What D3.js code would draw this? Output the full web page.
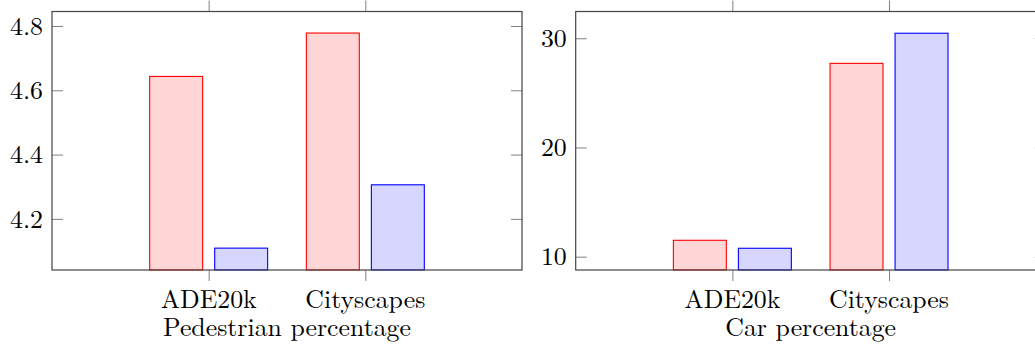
<!DOCTYPE html>
<html>
<head>
<meta charset="utf-8">
<script src="https://cdn.jsdelivr.net/npm/d3@7"></script>
<style>
  body { margin: 0; background: #fff; }
  svg { display: block; }
</style>
</head>
<body>
<svg id="chart" width="1035" height="346"></svg>
<script>
// datos
const categories = ['ADE20k', 'Cityscapes'];
const pedestrianRed = [4.643, 4.778];
const pedestrianBlue = [4.109, 4.306];
const pedestrianTicks = [4.2, 4.4, 4.6, 4.8];
const carRed = [11.5, 27.7];
const carBlue = [10.77, 30.46];
const carTicks = [10, 20, 30];

const FONT = '"Latin Modern Roman", "Liberation Serif", serif';
const FONT_SIZE = '25.8px';

const svg = d3.select('#chart');

// dibuja un panel con dos series de barras
function drawPanel(opts) {
  const left = opts.left, top = 11.5, bottom = 270, width = 470;
  const g = svg.append('g');

  const x = d3.scaleLinear().domain([-1, categories.length]).range([left, left + width]);
  const y = d3.scaleLinear().domain(opts.yDomain).range([bottom, top]);
  const unit = x(1) - x(0);
  const barW = unit * 0.338;
  const offset = unit * 0.2075;

  const series = [
    { values: opts.red, shift: -offset, fill: '#ffd6d6', stroke: '#ff0000' },
    { values: opts.blue, shift: offset, fill: '#d6d6ff', stroke: '#0000ff' }
  ];

  series.forEach(s => {
    g.selectAll(null)
      .data(s.values)
      .enter().append('rect')
      .attr('x', (d, i) => x(i) + s.shift - barW / 2)
      .attr('y', d => y(d))
      .attr('width', barW)
      .attr('height', d => bottom - y(d))
      .style('fill', s.fill)
      .style('stroke', s.stroke)
      .style('stroke-width', 1.1);
  });

  // ejes
  const tickColor = '#808080';
  const yLeft = g.append('g')
    .attr('transform', `translate(${left},0)`)
    .call(d3.axisLeft(y).tickValues(opts.ticks).tickSize(-11).tickPadding(9)
      .tickFormat(d3.format(opts.fmt)));
  const yRight = g.append('g')
    .attr('transform', `translate(${left + width},0)`)
    .call(d3.axisRight(y).tickValues(opts.ticks).tickSize(-11).tickFormat(''));
  const xBottom = g.append('g')
    .attr('transform', `translate(0,${bottom})`)
    .call(d3.axisBottom(x).tickValues(d3.range(categories.length)).tickSize(11).tickFormat(''));
  const xTop = g.append('g')
    .attr('transform', `translate(0,${top})`)
    .call(d3.axisTop(x).tickValues(d3.range(categories.length)).tickSize(11).tickFormat(''));

  [yLeft, yRight, xBottom, xTop].forEach(a => {
    a.select('.domain').remove();
    a.selectAll('.tick line').style('stroke', tickColor).style('stroke-width', 1);
  });
  yLeft.selectAll('.tick text')
    .attr('dy', '0.32em')
    .style('font-size', FONT_SIZE)
    .style('font-family', FONT)
    .style('fill', '#000');

  // marco
  g.append('rect')
    .attr('x', left).attr('y', top)
    .attr('width', width).attr('height', bottom - top)
    .style('fill', 'none')
    .style('stroke', '#444')
    .style('stroke-width', 1.2);

  // etiquetas de categorias
  g.selectAll('.cat')
    .data(categories)
    .enter().append('text')
    .attr('class', 'cat')
    .attr('x', (d, i) => x(i))
    .attr('y', 308)
    .attr('text-anchor', 'middle')
    .style('font-size', FONT_SIZE)
    .style('font-family', FONT)
    .text(d => d);

  g.append('text')
    .attr('x', left + width / 2)
    .attr('y', 335.5)
    .attr('text-anchor', 'middle')
    .style('font-size', FONT_SIZE)
    .style('font-family', FONT)
    .text(opts.title);
}

drawPanel({
  left: 52, yDomain: [4.041, 4.845], red: pedestrianRed, blue: pedestrianBlue,
  ticks: pedestrianTicks, fmt: '.1f', title: 'Pedestrian percentage'
});
drawPanel({
  left: 575.7, yDomain: [8.78, 32.45], red: carRed, blue: carBlue,
  ticks: carTicks, fmt: 'd', title: 'Car percentage'
});
</script>
</body>
</html>
